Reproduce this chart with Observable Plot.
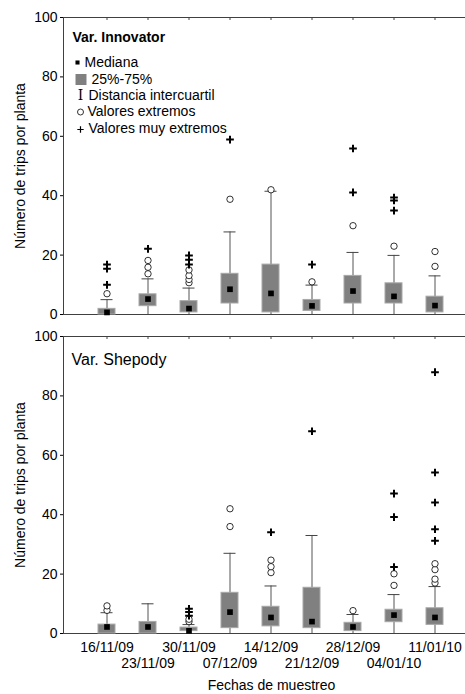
<!DOCTYPE html>
<html><head><meta charset="utf-8">
<script src="https://cdn.jsdelivr.net/npm/d3@7"></script>
<script src="https://cdn.jsdelivr.net/npm/@observablehq/plot@0.6"></script>
<style>
body{margin:0;background:#fff;}
#chart svg{display:block;}
</style></head><body><div id="chart"></div>
<script>
const dates = ["16/11/09","23/11/09","30/11/09","07/12/09","14/12/09","21/12/09","28/12/09","04/01/10","11/01/10"];
const yTicks = [0, 20, 40, 60, 80, 100];

// Var. Innovator
const innMedian = [0.7, 5.2, 2, 8.5, 7.1, 2.9, 7.9, 6.1, 3];
const innQ1     = [0, 2.8, 0.7, 3.7, 0.7, 1.2, 3.7, 3.7, 0.7];
const innQ3     = [1.9, 6.8, 4.5, 13.7, 16.8, 4.9, 13, 10.5, 6];
const innLow    = [0, 0, 0, 0, 0, 0, 0, 0, 0];
const innHigh   = [5, 12, 8.9, 27.8, 41.5, 9.9, 20.9, 19.9, 13];
const innOutliers = [[7],[13.7,15.9,18.2],[10.7,11.8,13.1,15],[38.8],[42],[11],[29.9],[23],[16.2,21.2]];
const innExtremes = [[10,15.4,16.8],[22.1],[16.8,18.4,19.9],[58.9],[],[16.8],[41.1,55.9],[35,38.4,39.4],[]];

// Var. Shepody
const shpMedian = [2.2, 2.2, 0.9, 7.2, 5.4, 4, 2.2, 6.2, 5.4];
const shpQ1     = [0, 0, 0.8, 1.8, 2.4, 1.8, 0.8, 3.8, 2.9];
const shpQ3     = [3, 3.9, 2, 13.7, 9, 15.4, 3.6, 8, 8.5];
const shpLow    = [0, 0, 0, 0, 0, 0, 0, 0, 0];
const shpHigh   = [7, 10, 3, 27, 16, 33, 6.4, 13.1, 15.8];
const shpOutliers = [[7.8,9.3],[],[4,4.8],[36,42],[20.5,22.5,24.7],[],[7.7],[16.2,20.1],[17,18.3,21.5,23.5]];
const shpExtremes = [[],[],[6,7.2,8.3],[],[34.1],[68.1],[],[22.4,39.2,47.1],[31.2,35.1,44.1,54.2,88]];

const legendLabels = ["Mediana","25%-75%","Distancia intercuartil","Valores extremos","Valores muy extremos"];

function boxRows(median, q1, q3, lo, hi) {
  return dates.map((d, i) => ({date: d, median: median[i], q1: q1[i], q3: q3[i], lo: lo[i], hi: hi[i]}));
}
function pointRows(lists) {
  return lists.flatMap((vals, i) => vals.map(v => ({date: dates[i], value: v})));
}

const font = "'Liberation Sans', Arial, sans-serif";
const axisColor = "#404040";
const boxFill = "#808080";

function boxMarks(boxes, outl, extr) {
  return [
    Plot.frame({anchor: "left", stroke: axisColor}),
    Plot.frame({anchor: "top", stroke: axisColor}),
    Plot.frame({anchor: "bottom", stroke: axisColor}),
    Plot.ruleX(dates, {x: d => d, y1: 100, y2: 99, stroke: axisColor}),
    Plot.axisY({ticks: yTicks, tickSize: 3, tickPadding: 3, fontSize: 14, label: "Número de trips por planta",
      labelAnchor: "center", labelArrow: "none", labelOffset: 48}),
    Plot.ruleX(boxes, {x: "date", y1: "lo", y2: "hi", stroke: "#555"}),
    Plot.tickY(boxes, {x: "date", y: "hi", stroke: "#444", insetLeft: 14.5, insetRight: 14.5}),
    Plot.barY(boxes, {x: "date", y1: "q1", y2: "q3", fill: boxFill, stroke: "#a8a8a8", strokeWidth: 1, insetLeft: 12, insetRight: 12}),
    Plot.dot(boxes, {x: "date", y: "median", symbol: "square", r: 3.2, fill: "black"}),
    Plot.dot(pointRows(outl), {x: "date", y: "value", r: 3.2, stroke: "black", strokeWidth: 0.8, fill: "white"}),
    Plot.dot(pointRows(extr), {x: "date", y: "value", symbol: "plus", r: 2.6, stroke: "black", strokeWidth: 2})
  ];
}

const xScale = {type: "band", domain: dates, paddingInner: 0, paddingOuter: 0.393, align: 0.686, axis: null};
const style = {fontFamily: font, fontSize: "14px", color: "black", background: "white", overflow: "visible"};
const one = [0];

const topPanel = Plot.plot({
  width: 465, height: 322, marginLeft: 63, marginRight: 0, marginTop: 17, marginBottom: 8,
  style, x: xScale, y: {domain: [0, 100]},
  marks: [
    ...boxMarks(boxRows(innMedian, innQ1, innQ3, innLow, innHigh), innOutliers, innExtremes),
    Plot.text(["Var. Innovator"], {text: d => d, frameAnchor: "top-left", dx: 9, dy: 24, fontWeight: "bold", textAnchor: "start", lineAnchor: "bottom", fontSize: 14}),
    // legend symbols
    Plot.dot(one, {frameAnchor: "top-left", dx: 14, dy: 45, symbol: "square", r: 2.3, fill: "black"}),
    Plot.dot(one, {frameAnchor: "top-left", dx: 17.5, dy: 62, symbol: "square", r: 6.2, fill: boxFill}),
    Plot.text(["I"], {text: d => d, frameAnchor: "top-left", dx: 17, dy: 82, textAnchor: "middle", lineAnchor: "bottom", fontSize: 14, fontFamily: "'DejaVu Serif', 'Liberation Serif', serif"}),
    Plot.dot(one, {frameAnchor: "top-left", dx: 17, dy: 94.5, r: 3, stroke: "black", strokeWidth: 0.8, fill: "white"}),
    Plot.dot(one, {frameAnchor: "top-left", dx: 17, dy: 112, symbol: "plus", r: 2.2, stroke: "black", strokeWidth: 1.2}),
    // legend labels
    Plot.text([legendLabels[0]], {text: d => d, frameAnchor: "top-left", dx: 21, dy: 49, textAnchor: "start", lineAnchor: "bottom", fontSize: 14}),
    Plot.text([legendLabels[1]], {text: d => d, frameAnchor: "top-left", dx: 28, dy: 66, textAnchor: "start", lineAnchor: "bottom", fontSize: 14}),
    Plot.text([legendLabels[2]], {text: d => d, frameAnchor: "top-left", dx: 25, dy: 82, textAnchor: "start", lineAnchor: "bottom", fontSize: 14}),
    Plot.text([legendLabels[3]], {text: d => d, frameAnchor: "top-left", dx: 24, dy: 98, textAnchor: "start", lineAnchor: "bottom", fontSize: 14}),
    Plot.text([legendLabels[4]], {text: d => d, frameAnchor: "top-left", dx: 25, dy: 115, textAnchor: "start", lineAnchor: "bottom", fontSize: 14})
  ]
});

const bottomPanel = Plot.plot({
  width: 465, height: 372, marginLeft: 63, marginRight: 0, marginTop: 14, marginBottom: 61,
  style, x: xScale, y: {domain: [0, 100]},
  marks: [
    ...boxMarks(boxRows(shpMedian, shpQ1, shpQ3, shpLow, shpHigh), shpOutliers, shpExtremes),
    Plot.text(["Var. Shepody"], {text: d => d, frameAnchor: "top-left", dx: 8, dy: 28, textAnchor: "start", lineAnchor: "bottom", fontSize: 16}),
    Plot.axisX({ticks: dates.filter((d, i) => i % 2 === 0), tickSize: 0, tickPadding: 9, fontSize: 14, label: null}),
    Plot.axisX({ticks: dates.filter((d, i) => i % 2 === 1), tickSize: 0, tickPadding: 25, fontSize: 14, label: null}),
    Plot.text(["Fechas de muestreo"], {text: d => d, frameAnchor: "bottom", dx: 7, dy: 56, lineAnchor: "bottom", fontSize: 14})
  ]
});

document.getElementById("chart").append(topPanel, bottomPanel);
</script></body></html>
